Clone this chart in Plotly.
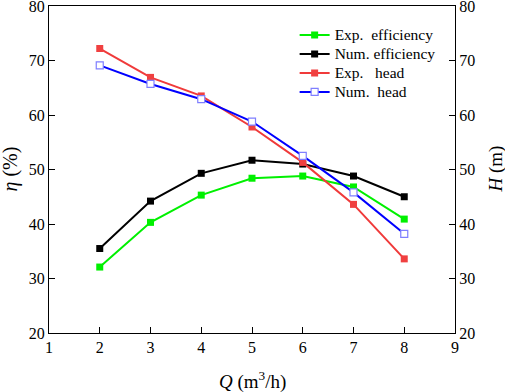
import plotly.graph_objects as go

Q = [2, 3, 4, 5, 6, 7, 8]
exp_eff = [32.1, 40.3, 45.3, 48.4, 48.8, 46.8, 40.9]
num_eff = [35.5, 44.2, 49.3, 51.7, 51.0, 48.8, 45.0]
exp_head = [72.2, 66.9, 63.5, 57.8, 51.3, 43.6, 33.6]
num_head = [69.1, 65.7, 62.9, 58.8, 52.5, 45.8, 38.2]
names = ["Exp.\u00a0\u00a0efficiency", "Num. efficiency", "Exp.\u00a0\u00a0\u00a0head", "Num.\u00a0\u00a0head"]

FONT = "Liberation Serif, Times New Roman, serif"


def lg(name):
    return f'<span style="font-size:15.5px">{name}</span>'


fig = go.Figure()
fig.add_trace(go.Scatter(x=Q, y=exp_eff, name=lg(names[0]), mode="lines+markers",
                         line=dict(color="#00f000", width=2),
                         marker=dict(symbol="square", size=7, color="#00f000")))
fig.add_trace(go.Scatter(x=Q, y=num_eff, name=lg(names[1]), mode="lines+markers",
                         line=dict(color="#000000", width=2),
                         marker=dict(symbol="square", size=7, color="#000000")))
fig.add_trace(go.Scatter(x=Q, y=exp_head, name=lg(names[2]), mode="lines+markers", yaxis="y2",
                         line=dict(color="#f03a3a", width=2),
                         marker=dict(symbol="square", size=7, color="#f04040")))
fig.add_trace(go.Scatter(x=Q, y=num_head, name=lg(names[3]), mode="lines+markers", yaxis="y2",
                         line=dict(color="#0000ff", width=2),
                         marker=dict(symbol="square", size=7, color="#ffffff",
                                     line=dict(color="#7f7fff", width=1.2))))

axis_common = dict(showgrid=False, zeroline=False, showline=True, linecolor="black", linewidth=1,
                   ticks="inside", ticklen=6, tickcolor="black", automargin=False,
                   ticklabeloverflow="allow",
                   tickfont=dict(family=FONT, size=16, color="black"))

fig.update_layout(
    width=505, height=392,
    margin=dict(l=49, r=50, t=6, b=59, autoexpand=False),
    paper_bgcolor="white", plot_bgcolor="white",
    font=dict(family=FONT, color="black"),
    showlegend=True,
    legend=dict(x=0.605, y=0.956, xanchor="left", yanchor="top", bgcolor="rgba(0,0,0,0)",
                font=dict(family=FONT, size=12, color="black"), tracegroupgap=0, itemwidth=30),
    xaxis=dict(range=[1, 9], dtick=1, tick0=1, mirror=True, **axis_common),
    yaxis=dict(range=[20, 80], dtick=10, **axis_common),
    yaxis2=dict(range=[20, 80], dtick=10, overlaying="y", side="right", **axis_common),
    annotations=[
        dict(text="<i>Q</i> (m<sup>3</sup>/h)", xref="paper", yref="paper", x=0.5, y=0,
             xanchor="center", yanchor="middle", yshift=-47, showarrow=False,
             font=dict(family=FONT, size=19, color="black")),
        dict(text="<i>η</i> (%)", xref="paper", yref="paper", x=0, y=0.5,
             xanchor="center", yanchor="middle", xshift=-39, textangle=-90, showarrow=False,
             font=dict(family=FONT, size=20, color="black")),
        dict(text="<i>H</i> (m)", xref="paper", yref="paper", x=1, y=0.5,
             xanchor="center", yanchor="middle", xshift=40, textangle=-90, showarrow=False,
             font=dict(family=FONT, size=19, color="black")),
    ],
)

fig.write_html("out.html", config={"displayModeBar": False},
               post_script="document.body.style.margin='0';document.body.style.overflow='hidden';")
